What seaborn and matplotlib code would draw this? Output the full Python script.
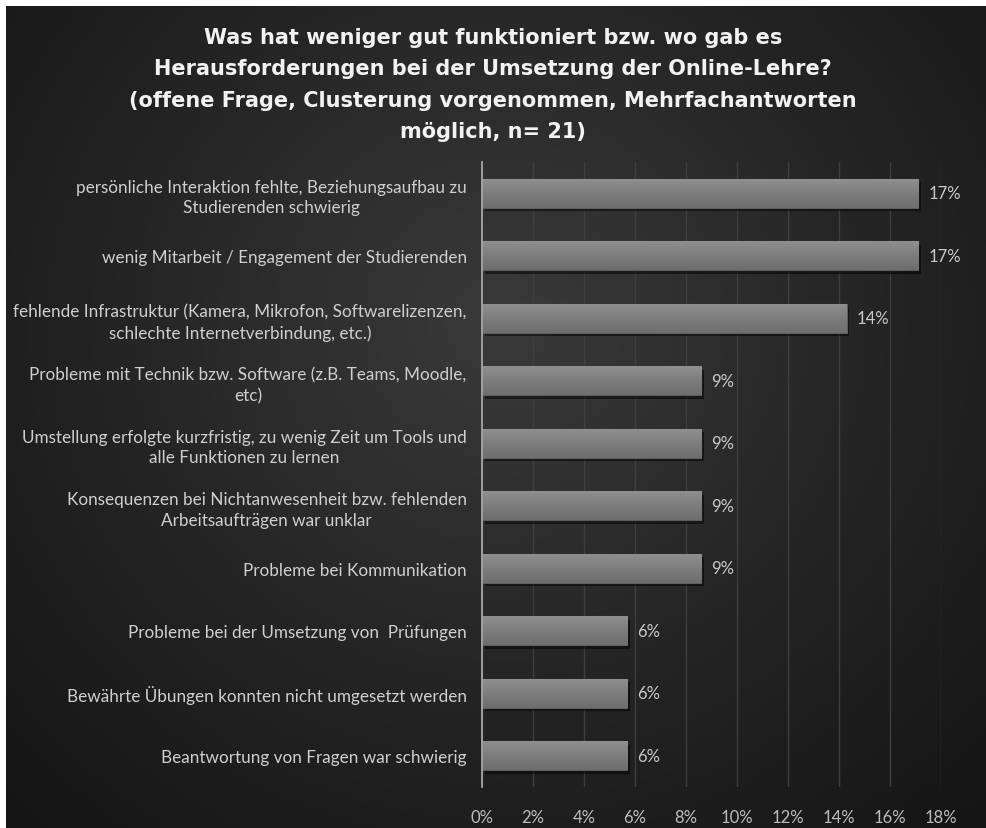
import numpy as np
import pandas as pd
import matplotlib
matplotlib.use("Agg")
import matplotlib.pyplot as plt
import matplotlib.patheffects as pe
from matplotlib.colors import LinearSegmentedColormap
import seaborn as sns

# --- data -------------------------------------------------------------
categories = [
    "persönliche Interaktion fehlte, Beziehungsaufbau zu\nStudierenden schwierig",
    "wenig Mitarbeit / Engagement der Studierenden",
    "fehlende Infrastruktur (Kamera, Mikrofon, Softwarelizenzen,\nschlechte Internetverbindung, etc.)",
    "Probleme mit Technik bzw. Software (z.B. Teams, Moodle,\netc)",
    "Umstellung erfolgte kurzfristig, zu wenig Zeit um Tools und\nalle Funktionen zu lernen",
    "Konsequenzen bei Nichtanwesenheit bzw. fehlenden\nArbeitsaufträgen war unklar",
    "Probleme bei Kommunikation",
    "Probleme bei der Umsetzung von  Prüfungen",
    "Bewährte Übungen konnten nicht umgesetzt werden",
    "Beantwortung von Fragen war schwierig",
]
shares = [17.1, 17.1, 14.3, 8.6, 8.6, 8.6, 8.6, 5.7, 5.7, 5.7]
x_ticks = [0, 2, 4, 6, 8, 10, 12, 14, 16, 18]
x_tick_labels = ["0%", "2%", "4%", "6%", "8%", "10%", "12%", "14%", "16%", "18%"]
title = ("Was hat weniger gut funktioniert bzw. wo gab es\n"
         "Herausforderungen bei der Umsetzung der Online-Lehre?\n"
         "(offene Frage, Clusterung vorgenommen, Mehrfachantworten\n"
         "möglich, n= 21)")

df = pd.DataFrame({"Kategorie": categories, "Anteil": shares})

# --- figure -----------------------------------------------------------
sns.set_theme(style="white")
plt.rcParams["font.family"] = ["Lato", "DejaVu Sans"]

W, H = 986, 829
fig = plt.figure(figsize=(W / 100, H / 100), dpi=100, facecolor="white")

# dark radial backdrop (white strip left and top only)
bg = fig.add_axes([6 / W, -0.02, 1.0, (H - 7) / H + 0.02], zorder=-10)
gy, gx = np.mgrid[0:1:400j, 0:1:480j]
r = np.sqrt(((gx - 0.50) / 0.75) ** 2 + ((gy - 0.38) / 0.85) ** 2)
r = np.clip(r, 0, 1)
bg_cmap = LinearSegmentedColormap.from_list("bg", ["#3a3a3a", "#252525", "#141414"])
bg.imshow(r, cmap=bg_cmap, aspect="auto", extent=[0, 1, 1, 0], interpolation="bilinear")
bg.set_axis_off()

ax = fig.add_axes([482 / W, 1 - 788 / H, 459 / W, 625 / H])
ax.set_facecolor("none")

sns.barplot(data=df, x="Anteil", y="Kategorie", orient="h", color="#7f7f7f",
            width=0.46, ax=ax, zorder=3, edgecolor="#5e5e5e", linewidth=0.8)

# soft shading and drop shadow on each bar
bar_cmap = LinearSegmentedColormap.from_list("bar", ["#8f8f8f", "#7d7d7d", "#6e6e6e"])
grad = np.linspace(0, 1, 64).reshape(-1, 1)
for p in ax.patches:
    x0, y0 = p.get_x(), p.get_y()
    w, h = p.get_width(), p.get_height()
    p.set_path_effects([pe.SimplePatchShadow(offset=(2, -2.5), shadow_rgbFace="black", alpha=0.5),
                        pe.Normal()])
    im = ax.imshow(grad, cmap=bar_cmap, aspect="auto", extent=[x0, x0 + w, y0 + h, y0],
                   zorder=3.5, interpolation="bilinear")
    im.set_clip_path(p)

ax.set_xlim(0, 18)
ax.set_ylim(len(categories) - 0.5, -0.5)

# value labels
for p, v in zip(ax.patches, shares):
    ax.text(p.get_width() + 0.4, p.get_y() + p.get_height() / 2, f"{v:.0f}%",
            va="center", ha="left", color="#c9c9c9", fontsize=12, zorder=5)

# grid and axes
ax.set_xticks(x_ticks)
ax.set_xticklabels(x_tick_labels)
ax.xaxis.grid(True, color="#3e3e3e", linewidth=1.0, zorder=0)
ax.set_axisbelow(True)
for s in ["top", "right", "bottom"]:
    ax.spines[s].set_visible(False)
ax.spines["left"].set_color("#a6a6a6")
ax.spines["left"].set_linewidth(1.3)
ax.spines["left"].set_zorder(6)
ax.tick_params(axis="x", length=0, pad=16, labelsize=12, labelcolor="#bdbdbd")
ax.tick_params(axis="y", length=0, pad=11)
ax.set_xlabel("")
ax.set_ylabel("")
for lab in ax.get_yticklabels():
    lab.set_color("#cfcfcf")
    lab.set_fontsize(12.3)
    lab.set_multialignment("center")
    lab.set_linespacing(1.35)

fig.text(0.5, 1 - 85 / H, title, ha="center", va="center", color="#f2f2f2",
         fontsize=15, fontweight="bold", family=["DejaVu Sans"],
         linespacing=1.7)

fig.savefig("out.png", dpi=100, facecolor=fig.get_facecolor())
